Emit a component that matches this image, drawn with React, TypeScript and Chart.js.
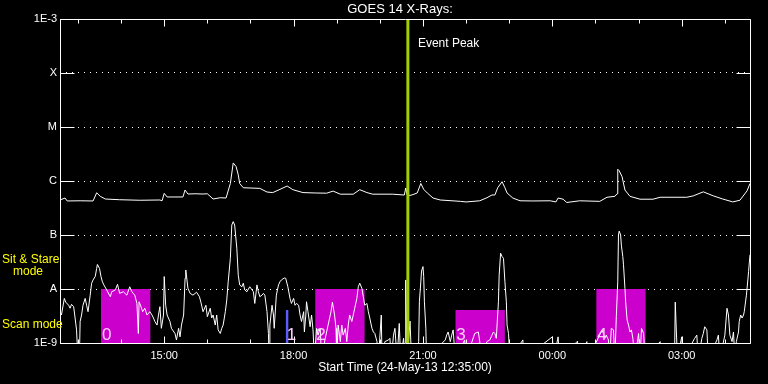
import React, { useEffect, useRef } from 'react';
import { Chart, registerables } from 'chart.js';

Chart.register(...registerables);

const FONT = '"Liberation Sans", "DejaVu Sans", sans-serif';

// x values are minutes after the start time 24-May-13 12:35:00
const xTickMinutes = [145, 325, 505, 685, 865];
const xTickLabels = ['15:00', '18:00', '21:00', '00:00', '03:00'];
const hourMinutes = [25, 85, 145, 205, 265, 325, 385, 445, 505, 565, 625, 685, 745, 805, 865, 925];
const yTickValues = [1e-9, 1e-8, 1e-7, 1e-6, 1e-5, 1e-4, 1e-3];
const yTickLabels = ['1E-9', 'A', 'B', 'C', 'M', 'X', '1E-3'];

// long channel (1-8 A) flux, W/m^2
const longChannel: [number, number][] = [
  [0, 4.45e-7], [7, 4.84e-7], [10, 4.27e-7], [28, 4.3e-7], [46, 4.27e-7], [51, 6.05e-7], [56, 5.2e-7],
  [63, 4.64e-7], [83, 4.5e-7], [111, 4.4e-7], [139, 4.45e-7], [142, 4.3e-7], [145, 5.9e-7], [149, 5.06e-7],
  [171, 5.06e-7], [174, 6.8e-7], [178, 5.74e-7], [188, 5.8e-7], [199, 5.74e-7], [205, 5.8e-7], [213, 4.64e-7],
  [223, 4.9e-7], [231, 4.84e-7], [237, 9.0e-7], [241, 2.16e-6], [245, 1.85e-6], [248, 1.3e-6], [250, 9.0e-7],
  [255, 7.5e-7], [278, 7.3e-7], [288, 6.25e-7], [296, 6.1e-7], [306, 7.0e-7], [316, 8.07e-7], [324, 6.9e-7],
  [338, 6.1e-7], [355, 6.0e-7], [371, 5.95e-7], [380, 6.5e-7], [390, 5.7e-7], [408, 5.7e-7], [417, 6.9e-7],
  [427, 6.1e-7], [435, 5.7e-7], [463, 5.7e-7], [479, 5.5e-7], [481, 7.4e-7], [483, 5.5e-7], [487, 5.4e-7],
  [491, 5.6e-7], [497, 6.0e-7], [502, 9.0e-7], [506, 7.0e-7], [511, 6.0e-7], [519, 4.84e-7], [529, 4.45e-7],
  [557, 4.2e-7], [565, 4.09e-7], [584, 4.3e-7], [594, 4.9e-7], [601, 5.51e-7], [605, 5.5e-7], [609, 7.5e-7],
  [615, 9.7e-7], [619, 7.5e-7], [622, 6.0e-7], [630, 4.84e-7], [640, 4.3e-7], [658, 4.27e-7], [682, 4.3e-7],
  [690, 4.1e-7], [693, 4.84e-7], [700, 4.6e-7], [705, 4.0e-7], [723, 4.3e-7], [751, 4.2e-7], [761, 5.0e-7],
  [772, 5.2e-7], [775, 5.8e-7], [776, 1.65e-6], [778, 1.55e-6], [782, 1.2e-6], [786, 6.8e-7], [793, 5.2e-7],
  [807, 4.6e-7], [825, 4.6e-7], [835, 5.0e-7], [872, 5.0e-7], [881, 5.3e-7], [895, 6.3e-7], [909, 5.3e-7],
  [922, 4.64e-7], [936, 4.1e-7], [946, 4.4e-7], [956, 6.6e-7], [960, 9.0e-7],
];

// short channel (0.5-4 A) flux, W/m^2 (5e-10 = below the plotted range)
const shortChannel: [number, number][] = [
  [0, 3.8e-9], [2, 3.3e-9], [6, 6.7e-9], [8, 5.7e-9], [12, 5.0e-9], [14, 4.4e-9], [16, 5.2e-9], [19, 4.7e-9],
  [21, 2.9e-9], [23, 1.75e-9], [25, 5e-10], [27, 5e-10], [28, 2.5e-9], [30, 3.3e-9], [32, 5.0e-9], [35, 6.7e-9],
  [37, 5.0e-9], [39, 3.8e-9], [42, 7.7e-9], [44, 1.28e-8], [46, 1.47e-8], [49, 1.7e-8], [51, 2.4e-8], [52, 2.85e-8],
  [55, 2.4e-8], [57, 1.7e-8], [59, 1.36e-8], [61, 1.19e-8], [65, 9.6e-9], [70, 7.2e-9], [72, 8.9e-9], [77, 9.6e-9],
  [80, 1.22e-8], [83, 8.3e-9], [88, 8.9e-9], [93, 7.7e-9], [97, 1.1e-8], [100, 8.9e-9], [104, 7.7e-9], [107, 5.4e-9],
  [109, 1.5e-9], [110, 5.8e-9], [112, 5.0e-9], [115, 3.8e-9], [118, 4.4e-9], [121, 3.3e-9], [125, 3.8e-9],
  [128, 3.3e-9], [130, 2.9e-9], [132, 2.5e-9], [135, 2.15e-9], [137, 3.3e-9], [139, 4.7e-9], [141, 1.87e-9],
  [144, 3.3e-9], [145, 1.7e-8], [147, 5.0e-9], [149, 3.3e-9], [153, 2.5e-9], [155, 1.87e-9], [160, 1.5e-9],
  [162, 1.14e-9], [165, 1.87e-9], [167, 1.3e-9], [169, 2.15e-9], [172, 3.3e-9], [174, 1.58e-8], [175, 2.25e-8],
  [178, 1.03e-8], [181, 8.3e-9], [185, 7.7e-9], [190, 8.7e-9], [194, 7.2e-9], [196, 5.7e-9], [199, 3.8e-9],
  [203, 5.0e-9], [205, 3.07e-9], [209, 4.4e-9], [211, 2.9e-9], [213, 3.3e-9], [216, 2.15e-9], [218, 3.3e-9],
  [220, 1.75e-9], [223, 1.5e-9], [225, 1.87e-9], [227, 2.15e-9], [230, 3.8e-9], [232, 6.25e-9], [234, 1.36e-8],
  [237, 3.7e-8], [239, 1.53e-7], [241, 1.77e-7], [243, 1.53e-7], [246, 5.7e-8], [248, 1.8e-8], [250, 1.19e-8],
  [253, 1.1e-8], [255, 1.28e-8], [257, 9.6e-9], [260, 8.9e-9], [264, 1.1e-8], [269, 8.9e-9], [271, 5.4e-9],
  [274, 1.19e-8], [276, 8.9e-9], [278, 7.2e-9], [281, 7.7e-9], [283, 8.3e-9], [285, 7.7e-9], [288, 3.8e-9],
  [290, 1.5e-9], [291, 5e-10], [292, 2.15e-9], [295, 5.0e-9], [297, 3.3e-9], [298, 1.87e-9], [301, 7.7e-9],
  [304, 1.19e-8], [306, 1.36e-8], [308, 1.47e-8], [312, 1.6e-8], [314, 1.58e-8], [317, 1.1e-8], [320, 6.7e-9],
  [322, 5.4e-9], [325, 6.7e-9], [327, 5.0e-9], [329, 5.4e-9], [332, 5.0e-9], [334, 3.3e-9], [336, 2.5e-9],
  [339, 3.8e-9], [340, 1.6e-9], [342, 3.3e-9], [343, 5.8e-9], [345, 3.8e-9], [348, 2.0e-9], [350, 3.3e-9],
  [352, 1.75e-9], [354, 5e-10], [357, 1.87e-9], [359, 1.4e-9], [362, 1.87e-9], [364, 5e-10], [369, 1.22e-9],
  [373, 2.15e-9], [377, 3.8e-9], [379, 5.7e-9], [382, 3.3e-9], [384, 1.87e-9], [385, 5e-10], [387, 2.15e-9],
  [390, 1.06e-9], [392, 2.15e-9], [394, 1.4e-9], [397, 1.87e-9], [399, 1.06e-9], [401, 2.15e-9], [403, 3.3e-9],
  [406, 2.5e-9], [408, 3.3e-9], [410, 4.4e-9], [413, 6.7e-9], [415, 1.1e-8], [417, 1.28e-8], [420, 1.03e-8],
  [422, 7.2e-9], [424, 5.0e-9], [427, 5.4e-9], [429, 3.8e-9], [431, 2.9e-9], [434, 1.87e-9], [436, 1.6e-9],
  [438, 1.5e-9], [441, 1.06e-9], [443, 5e-10], [447, 3.3e-9], [448, 5e-10], [452, 1.06e-9], [457, 1.14e-9],
  [459, 1.22e-9], [461, 5e-10], [464, 1.4e-9], [466, 1.87e-9], [469, 5e-10], [472, 2.3e-9], [474, 5e-10],
  [478, 1.22e-9], [480, 5e-10], [481, 1.47e-8], [483, 5e-10], [487, 2.55e-9], [489, 5e-10], [496, 5e-10],
  [499, 1.06e-9], [500, 5.8e-9], [502, 1.36e-8], [503, 2.15e-8], [505, 2.6e-8], [506, 1.7e-8], [507, 5.8e-9],
  [509, 1.87e-9], [510, 5e-10], [536, 1.14e-9], [538, 1.4e-9], [540, 1.6e-9], [543, 1.06e-9], [545, 1.4e-9],
  [547, 1.75e-9], [550, 5e-10], [563, 1.14e-9], [565, 5e-10], [577, 1.5e-9], [582, 1.6e-9], [584, 1.06e-9],
  [586, 5e-10], [594, 1.06e-9], [598, 1.14e-9], [603, 1.6e-9], [605, 1.5e-9], [607, 1.22e-9], [610, 5.8e-9],
  [611, 1.8e-8], [613, 4.6e-8], [615, 4.0e-8], [617, 3.7e-8], [619, 1.36e-8], [621, 5.8e-9], [622, 2.15e-9],
  [624, 1.5e-9], [626, 5e-10], [644, 1.14e-9], [645, 5e-10], [685, 1.3e-9], [687, 5e-10], [693, 1.3e-9],
  [695, 5e-10], [720, 1.08e-9], [722, 5e-10], [733, 1.06e-9], [735, 5e-10], [754, 1.75e-9], [756, 1.5e-9],
  [758, 1.22e-9], [760, 1.4e-9], [763, 1.14e-9], [765, 5e-10], [767, 1.87e-9], [770, 1.75e-9], [772, 5e-10],
  [774, 3.07e-9], [776, 1.36e-8], [777, 1.0e-7], [778, 1.18e-7], [780, 1.0e-7], [781, 6.5e-8], [783, 4.0e-8],
  [784, 2.8e-8], [786, 1.03e-8], [787, 5.8e-9], [789, 2.67e-9], [791, 2.15e-9], [793, 1.6e-9], [795, 1.75e-9],
  [797, 1.22e-9], [800, 5e-10], [805, 1.5e-9], [807, 5e-10], [809, 1.87e-9], [812, 1.5e-9], [814, 5e-10],
  [835, 1.06e-9], [837, 5e-10], [855, 5e-10], [856, 5.7e-9], [859, 5e-10], [865, 1.3e-9], [867, 5e-10],
  [883, 1.22e-9], [886, 1.4e-9], [888, 5e-10], [893, 1.22e-9], [895, 1.5e-9], [897, 2.0e-9], [900, 1.75e-9],
  [902, 5e-10], [914, 1.14e-9], [916, 1.4e-9], [918, 5e-10], [925, 1.4e-9], [928, 4.4e-9], [930, 3.3e-9],
  [932, 1.4e-9], [935, 1.06e-9], [937, 1.6e-9], [939, 5e-10], [941, 1.06e-9], [944, 1.6e-9], [945, 2.5e-9],
  [947, 3.3e-9], [949, 2.9e-9], [951, 3.3e-9], [952, 3.8e-9], [955, 7.7e-9], [957, 1.47e-8], [958, 2.1e-8],
  [960, 4.3e-8],
];

// observation windows
const boxStart = [57, 314, 355, 550, 746];
const boxEnd = [126, 318, 424, 619, 815];
const boxTop = [1e-8, 4.1e-9, 1e-8, 4.1e-9, 1e-8];
const boxLabels = ['0', '1', '2', '3', '4'];
const boxColors = ['#cc00cc', '#5c5cff', '#cc00cc', '#cc00cc', '#cc00cc'];

const eventPeakMinute = 484;

export default function App() {
  const ref = useRef<HTMLCanvasElement>(null);

  useEffect(() => {
    document.body.style.margin = '0';
    document.body.style.background = '#000';
    const canvas = ref.current;
    if (!canvas) return;

    const overlay = {
      id: 'overlay',
      beforeDraw(chart: any) {
        const { ctx, width, height } = chart;
        ctx.save();
        ctx.fillStyle = '#000';
        ctx.fillRect(0, 0, width, height);
        ctx.restore();
      },
      afterDraw(chart: any) {
        const { ctx, chartArea: a, scales } = chart;
        const xs = scales.x;
        const ys = scales.y;
        const L = Math.round(a.left) + 0.5;
        const R = Math.round(a.right) + 0.5;
        const T = Math.round(a.top) + 0.5;
        const B = Math.round(a.bottom) + 0.5;
        ctx.save();
        ctx.strokeStyle = '#fff';
        ctx.lineWidth = 1;
        ctx.beginPath();
        ctx.rect(L, T, R - L, B - T);
        for (const v of yTickValues) {
          const py = Math.round(ys.getPixelForValue(v)) + 0.5;
          ctx.moveTo(L, py);
          ctx.lineTo(L + 14, py);
          ctx.moveTo(R - 14, py);
          ctx.lineTo(R, py);
        }
        for (const m of hourMinutes) {
          const px = Math.round(xs.getPixelForValue(m)) + 0.5;
          const len = xTickMinutes.includes(m) ? 7 : 4;
          ctx.moveTo(px, B);
          ctx.lineTo(px, B - len);
          ctx.moveTo(px, T);
          ctx.lineTo(px, T + len);
        }
        ctx.stroke();

        ctx.textBaseline = 'alphabetic';
        ctx.fillStyle = '#fff';
        ctx.textAlign = 'center';
        ctx.font = `13px ${FONT}`;
        ctx.fillText('GOES 14 X-Rays:', 400, 13);
        ctx.font = `12px ${FONT}`;
        ctx.fillText('Start Time (24-May-13 12:35:00)', 405, 371);
        ctx.textAlign = 'left';
        ctx.fillText('Event Peak', xs.getPixelForValue(eventPeakMinute) + 10, 47);

        ctx.fillStyle = '#ffff00';
        ctx.fillText('Sit & Stare', 2, 263);
        ctx.fillText('mode', 13, 275);
        ctx.fillText('Scan mode', 2, 328);

        ctx.fillStyle = '#ffd0ff';
        ctx.font = `17px ${FONT}`;
        boxLabels.forEach((lab, i) => {
          ctx.fillText(lab, xs.getPixelForValue(boxStart[i]) + 1, 339.5);
        });
        ctx.restore();
      },
    };

    const boxDatasets = boxStart.map((s, i) => ({
      data: [
        { x: s, y: boxTop[i] },
        { x: boxEnd[i], y: boxTop[i] },
      ],
      fill: 'start',
      backgroundColor: boxColors[i],
      borderColor: 'rgba(0,0,0,0)',
      borderWidth: 0,
      pointRadius: 0,
      order: 5,
    }));

    const chart = new Chart(canvas, {
      type: 'line',
      data: {
        datasets: [
          {
            data: [
              { x: eventPeakMinute, y: 1e-9 },
              { x: eventPeakMinute, y: 1e-3 },
            ],
            borderColor: '#a0d000',
            borderWidth: 3,
            pointRadius: 0,
            fill: false,
            order: 0,
          },
          {
            data: longChannel.map(([x, y]) => ({ x, y })),
            borderColor: '#ffffff',
            borderWidth: 1,
            pointRadius: 0,
            fill: false,
            order: 1,
          },
          {
            data: shortChannel.map(([x, y]) => ({ x, y })),
            borderColor: '#ffffff',
            borderWidth: 1,
            pointRadius: 0,
            fill: false,
            order: 1,
          },
          ...boxDatasets,
        ] as any,
      },
      options: {
        responsive: false,
        animation: false,
        events: [],
        layout: { padding: { top: 19, right: 18, left: 0, bottom: 0 } },
        plugins: {
          legend: { display: false },
          tooltip: { enabled: false },
          title: { display: false },
        },
        elements: { line: { tension: 0 } },
        scales: {
          x: {
            type: 'linear',
            min: 0,
            max: 960,
            afterFit: (s: any) => {
              s.height = 41;
            },
            afterBuildTicks: (s: any) => {
              s.ticks = xTickMinutes.map((v) => ({ value: v }));
            },
            ticks: {
              callback: (_v: any, i: number) => xTickLabels[i],
              color: '#ffffff',
              font: { family: FONT, size: 11 },
              padding: 6,
              maxRotation: 0,
              autoSkip: false,
            },
            grid: { display: false, drawTicks: false },
            border: { display: false },
          },
          y: {
            type: 'logarithmic',
            min: 1e-9,
            max: 1e-3,
            afterFit: (s: any) => {
              s.width = 60;
            },
            afterBuildTicks: (s: any) => {
              s.ticks = yTickValues.map((v) => ({ value: v }));
            },
            ticks: {
              callback: (_v: any, i: number) => yTickLabels[i],
              color: '#ffffff',
              font: { family: FONT, size: 11 },
              padding: 3,
              autoSkip: false,
            },
            grid: { color: '#ffffff', lineWidth: 1, drawTicks: false },
            border: { display: false, dash: [1, 5] },
          },
        },
      } as any,
      plugins: [overlay],
    });

    return () => chart.destroy();
  }, []);

  return <canvas ref={ref} width={768} height={384} style={{ display: 'block' }} />;
}
